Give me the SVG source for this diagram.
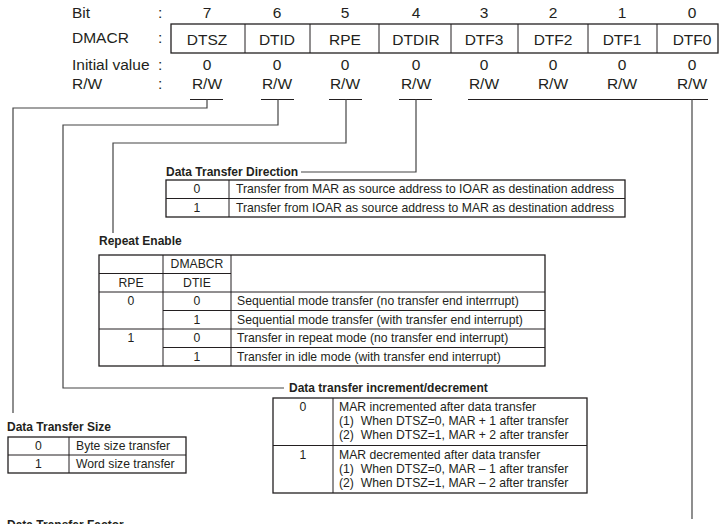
<svg xmlns="http://www.w3.org/2000/svg" width="719" height="524" viewBox="0 0 719 524">
<style>
text { font-family: "Liberation Sans", Arial, sans-serif; fill: #231f20; white-space: pre; }
.h { font-size: 15.5px; }
.c { text-anchor: middle; }
.t { font-size: 12.2px; }
.b { font-size: 12px; font-weight: bold; }
.box { fill: none; stroke: #231f20; stroke-width: 1.3; }
.ln { fill: none; stroke: #231f20; stroke-width: 1; }
.conn { fill: none; stroke: #444; stroke-width: 1.2; }
</style>
<rect width="719" height="524" fill="#fff"/>

<g id="register">
  <text class="h" x="72" y="18">Bit</text>
  <text class="h" x="72" y="43">DMACR</text>
  <text class="h" x="72" y="70">Initial value</text>
  <text class="h" x="72" y="89">R/W</text>
  <text class="h" x="158" y="18">:</text>
  <text class="h" x="158" y="43">:</text>
  <text class="h" x="158" y="70">:</text>
  <text class="h" x="158" y="89">:</text>
  <g class="h c">
    <text x="207" y="18">7</text><text x="277" y="18">6</text><text x="345" y="18">5</text><text x="416" y="18">4</text>
    <text x="484" y="18">3</text><text x="553" y="18">2</text><text x="622" y="18">1</text><text x="692" y="18">0</text>
    <text x="207" y="44.5">DTSZ</text><text x="277" y="44.5">DTID</text><text x="345" y="44.5">RPE</text><text x="416" y="44.5">DTDIR</text>
    <text x="484" y="44.5">DTF3</text><text x="553" y="44.5">DTF2</text><text x="622" y="44.5">DTF1</text><text x="692" y="44.5">DTF0</text>
    <text x="207" y="70">0</text><text x="277" y="70">0</text><text x="345" y="70">0</text><text x="416" y="70">0</text>
    <text x="484" y="70">0</text><text x="553" y="70">0</text><text x="622" y="70">0</text><text x="692" y="70">0</text>
    <text x="207" y="89">R/W</text><text x="277" y="89">R/W</text><text x="345" y="89">R/W</text><text x="416" y="89">R/W</text>
    <text x="484" y="89">R/W</text><text x="553" y="89">R/W</text><text x="622" y="89">R/W</text><text x="692" y="89">R/W</text>
  </g>
  <rect class="box" x="171" y="24" width="547" height="29"/>
  <path class="ln" d="M245,24V53M310,24V53M379,24V53M451,24V53M518,24V53M588,24V53M657,24V53"/>
  <path class="ln" d="M190,99.5H223M261,99.5H294M329,99.5H362M399,99.5H432M468,99.5H708"/>
</g>

<g id="connectors">
  <path class="conn" d="M207,99.5V108H13V413"/>
  <path class="conn" d="M278,99.5V125H63V388H284"/>
  <path class="conn" d="M346,99.5V143H113V233"/>
  <path class="conn" d="M416,99.5V172H301"/>
  <path class="conn" d="M692,99.5V519"/>
</g>

<g id="dtdir">
  <text class="b" x="166" y="176">Data Transfer Direction</text>
  <rect class="box" x="166" y="180" width="459" height="37"/>
  <path class="ln" d="M166,198.5H625M229,180V217"/>
  <text class="t c" x="197" y="193">0</text>
  <text class="t" x="236" y="193">Transfer from MAR as source address to IOAR as destination address</text>
  <text class="t c" x="197" y="211.5">1</text>
  <text class="t" x="236" y="211.5">Transfer from IOAR as source address to MAR as destination address</text>
</g>

<g id="rpe">
  <text class="b" x="99" y="245">Repeat Enable</text>
  <rect class="box" x="99" y="255" width="446" height="111"/>
  <path class="ln" d="M163,255V366M231,255V366M99,273.5H231M99,292H545M163,310.5H545M99,329H545M163,347.5H545"/>
  <text class="t c" x="197" y="268">DMABCR</text>
  <text class="t c" x="131" y="286.5">RPE</text>
  <text class="t c" x="197" y="286.5">DTIE</text>
  <text class="t c" x="131" y="305">0</text>
  <text class="t c" x="197" y="305">0</text>
  <text class="t" x="237" y="305">Sequential mode transfer (no transfer end interrrupt)</text>
  <text class="t c" x="197" y="323.5">1</text>
  <text class="t" x="237" y="323.5">Sequential mode transfer (with transfer end interrupt)</text>
  <text class="t c" x="131" y="342">1</text>
  <text class="t c" x="197" y="342">0</text>
  <text class="t" x="237" y="342">Transfer in repeat mode (no transfer end interrupt)</text>
  <text class="t c" x="197" y="360.5">1</text>
  <text class="t" x="237" y="360.5">Transfer in idle mode (with transfer end interrupt)</text>
</g>

<g id="dtid">
  <text class="b" x="289" y="392">Data transfer increment/decrement</text>
  <rect class="box" x="273" y="398" width="314" height="95"/>
  <path class="ln" d="M273,445.5H587M333,398V493"/>
  <text class="t c" x="303" y="411">0</text>
  <text class="t" x="339" y="411">MAR incremented after data transfer</text>
  <text class="t" x="339" y="425">(1)  When DTSZ=0, MAR + 1 after transfer</text>
  <text class="t" x="339" y="439">(2)  When DTSZ=1, MAR + 2 after transfer</text>
  <text class="t c" x="303" y="459">1</text>
  <text class="t" x="339" y="459">MAR decremented after data transfer</text>
  <text class="t" x="339" y="473">(1)  When DTSZ=0, MAR – 1 after transfer</text>
  <text class="t" x="339" y="487">(2)  When DTSZ=1, MAR – 2 after transfer</text>
</g>

<g id="dtsz">
  <text class="b" x="7" y="431">Data Transfer Size</text>
  <rect class="box" x="8" y="437" width="178" height="36"/>
  <path class="ln" d="M8,455H186M69,437V473"/>
  <text class="t c" x="38.5" y="450">0</text>
  <text class="t" x="76" y="450">Byte size transfer</text>
  <text class="t c" x="38.5" y="468">1</text>
  <text class="t" x="76" y="468">Word size transfer</text>
</g>

<g id="dtf">
  <text class="b" x="7" y="529">Data Transfer Factor</text>
</g>
</svg>
